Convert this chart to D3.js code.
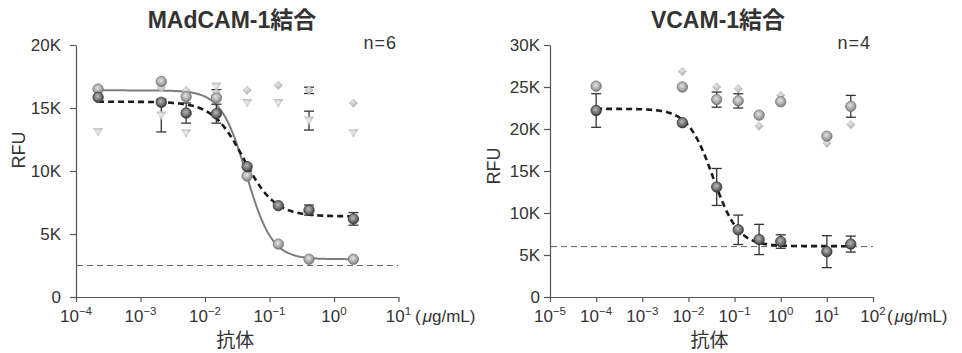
<!DOCTYPE html>
<html>
<head>
<meta charset="utf-8">
<script src="https://cdn.jsdelivr.net/npm/d3@7/dist/d3.min.js"></script>
<style>
  html, body { margin: 0; padding: 0; background: #fff; }
  svg { display: block; }
  text { font-family: "Liberation Sans", Arial, "Noto Sans CJK JP", sans-serif; fill: #333; }
</style>
</head>
<body>
<svg id="chart" width="962" height="353"></svg>
<script>
// ---- MAdCAM-1 binding (concentration in µg/mL, RFU) ----
const madcamTitle = "MAdCAM-1結合";
const madcamN = "n=6";
const madcamConc = [2.2e-4, 2.1e-3, 5.1e-3, 0.015, 0.045, 0.137, 0.41, 2.0];
const madcamDark = [15850, 15450, 14600, 14550, 10350, 7250, 6900, 6200];
const madcamDarkErr = [0, 0, 800, 750, 0, 0, 400, 500];
const madcamLight = [16500, 17100, 15900, 15800, 9600, 4200, 3000, 3000];
const madcamDiamond = [15700, 16600, 16400, 16200, 16400, 16800, 16400, 15400];
const madcamDiamondErr = [0, 0, 0, 250, 0, 0, 250, 0];
const madcamTriangle = [13100, 14400, 13000, 16700, 15400, 15400, 14000, 13000];
const madcamTriangleErr = [0, 1300, 0, 0, 0, 0, 750, 0];
// four-parameter logistic fits: [top, bottom, EC50, hill]
const madcamDarkFit = [15500, 6400, 0.04, 1.8];
const madcamLightFit = [16400, 3000, 0.044, 2.2];
const madcamBaseline = 2500;
const madcamYTicks = [0, 5000, 10000, 15000, 20000];
const madcamXTicks = [-4, -3, -2, -1, 0, 1];

// ---- VCAM-1 binding ----
const vcamTitle = "VCAM-1結合";
const vcamN = "n=4";
const vcamConc = [1e-4, 0.0074, 0.041, 0.12, 0.34, 1, 10, 33];
const vcamDark = [22200, 20750, 13100, 8000, 6850, 6600, 5400, 6300];
const vcamDarkErr = [2000, 0, 2200, 1750, 1800, 800, 1900, 950];
const vcamLight = [25100, 25000, 23500, 23350, 21650, 23250, 19150, 22700];
const vcamLightErr = [0, 0, 900, 850, 0, 0, 0, 1300];
const vcamDiamond = [24900, 26850, 25000, 24800, 20350, 24000, 18300, 20550];
const vcamDarkFit = [22400, 6050, 0.0343, 1.6];
const vcamBaseline = 6000;
const vcamYTicks = [0, 5000, 10000, 15000, 20000, 25000, 30000];
const vcamXTicks = [-5, -4, -3, -2, -1, 0, 1, 2];

const unitLabel = "μg/mL";
const xTitle = "抗体";
const yTitle = "RFU";

const svg = d3.select("#chart");
const defs = svg.append("defs");

function sphere(id, c0, c1, c2) {
  const g = defs.append("radialGradient").attr("id", id)
    .attr("cx", "45%").attr("cy", "40%").attr("r", "60%");
  g.append("stop").attr("offset", "0%").attr("stop-color", c0);
  g.append("stop").attr("offset", "55%").attr("stop-color", c1);
  g.append("stop").attr("offset", "100%").attr("stop-color", c2);
}
sphere("gDark", "#b8b8b8", "#7a7a7a", "#3a3a3a");
sphere("gLight", "#e4e4e4", "#b0b0b0", "#7c7c7c");
sphere("gDiamond", "#e6e6e6", "#c4c4c4", "#a6a6a6");
sphere("gTri", "#eeeeee", "#cdcdcd", "#b0b0b0");

const logistic = ([top, bottom, ec50, hill]) => c => bottom + (top - bottom) / (1 + Math.pow(c / ec50, hill));
const kFmt = d => d === 0 ? "0" : (d / 1000) + "K";
const supMinus = e => e < 0 ? "\u2212" + (-e) : String(e);

function drawPanel(o) {
  const g = svg.append("g");
  const x = d3.scaleLog().domain(o.xDomain).range(o.xRange);
  const y = d3.scaleLinear().domain(o.yDomain).range([297, 45]);

  // axes
  const yAxis = g.append("g").attr("transform", `translate(${o.xRange[0]},0)`)
    .call(d3.axisLeft(y).tickValues(o.yTicks).tickFormat(kFmt).tickSize(6).tickPadding(o.yPad).tickSizeOuter(0));
  const xAxis = g.append("g").attr("transform", "translate(0,297)")
    .call(d3.axisBottom(x).tickValues(o.xTicks.map(e => Math.pow(10, e))).tickFormat("").tickSize(5).tickSizeOuter(0));
  [yAxis, xAxis].forEach(a => {
    a.selectAll("path, line").attr("stroke", "#555").attr("stroke-width", 1.2);
  });
  yAxis.selectAll("text").attr("font-size", 17).attr("fill", "#333")
    .style("font-family", '"Liberation Sans", Arial, sans-serif');

  // decade labels with superscript exponents
  o.xTicks.forEach(e => {
    const t = g.append("text").attr("x", x(Math.pow(10, e))).attr("y", 322)
      .attr("text-anchor", "middle").attr("font-size", 17);
    t.append("tspan").text("10");
    t.append("tspan").attr("dy", -7).attr("font-size", 11.5).text(supMinus(e));
  });
  // unit label after the last decade
  const u = g.append("text").attr("x", o.unitX).attr("y", 322).attr("font-size", 17);
  u.append("tspan").text("(");
  u.append("tspan").attr("font-style", "italic").attr("dx", 2).text(unitLabel[0]);
  u.append("tspan").text(unitLabel.slice(1) + ")");

  // axis titles
  g.append("text").attr("x", (o.xRange[0] + o.xRange[1]) / 2 - 2).attr("y", 347)
    .attr("text-anchor", "middle").attr("font-size", 19)
    .style("font-family", '"Noto Sans CJK JP", sans-serif').text(xTitle);
  g.append("text").attr("transform", `translate(${o.yTitleX},${o.yTitleY}) rotate(-90)`)
    .attr("text-anchor", "middle").attr("font-size", 18).text(yTitle);

  // chart title and n
  g.append("text").attr("x", o.titleX).attr("y", 28).attr("text-anchor", "middle")
    .attr("font-size", 23).attr("font-weight", "bold").attr("fill", "#222").text(o.title);
  g.append("text").attr("x", o.nX).attr("y", 49).attr("text-anchor", "end")
    .attr("font-size", 18).attr("letter-spacing", 1).text(o.n);

  // background reference level
  g.append("line").attr("x1", o.xRange[0] + 1).attr("x2", o.xRange[1])
    .attr("y1", y(o.baseline)).attr("y2", y(o.baseline))
    .attr("stroke", "#666").attr("stroke-width", 1).attr("stroke-dasharray", "6,4");

  // fitted curves
  const conc = o.conc;
  const lo = Math.log10(conc[0]), hi = Math.log10(conc[conc.length - 1]);
  const samples = d3.range(0, 201).map(i => Math.pow(10, lo + (hi - lo) * i / 200));
  const line = d3.line().x(d => x(d[0])).y(d => y(d[1])).curve(d3.curveLinear);
  o.fits.forEach(f => {
    const fn = logistic(f.p);
    g.append("path").datum(samples.map(c => [c, fn(c)]))
      .attr("d", line).attr("fill", "none")
      .attr("stroke", f.color).attr("stroke-width", f.width)
      .attr("stroke-dasharray", f.dash || null);
  });

  // error bars
  const errG = g.append("g").attr("stroke", "#333").attr("stroke-width", 1.3);
  o.series.forEach(s => {
    if (!s.err) return;
    s.values.forEach((v, i) => {
      const e = s.err[i];
      if (!e) return;
      const cx = x(conc[i]);
      const y1 = y(v + e), y2 = y(v - e);
      errG.append("line").attr("x1", cx).attr("x2", cx).attr("y1", y1).attr("y2", y2);
      errG.append("line").attr("x1", cx - 5).attr("x2", cx + 5).attr("y1", y1).attr("y2", y1);
      errG.append("line").attr("x1", cx - 5).attr("x2", cx + 5).attr("y1", y2).attr("y2", y2);
    });
  });

  // markers
  o.series.forEach(s => {
    const mg = g.append("g");
    s.values.forEach((v, i) => {
      const cx = x(conc[i]), cy = y(v);
      if (s.shape === "circle") {
        mg.append("circle").attr("cx", cx).attr("cy", cy).attr("r", 5.2)
          .attr("fill", `url(#${s.fill})`).attr("stroke", s.stroke).attr("stroke-width", 0.8);
      } else if (s.shape === "diamond") {
        mg.append("path").attr("d", `M${cx},${cy - 4.5}L${cx + 4.5},${cy}L${cx},${cy + 4.5}L${cx - 4.5},${cy}Z`)
          .attr("fill", `url(#${s.fill})`);
      } else {
        mg.append("path").attr("d", `M${cx - 5},${cy - 4}L${cx + 5},${cy - 4}L${cx},${cy + 4.5}Z`)
          .attr("fill", `url(#${s.fill})`);
      }
    });
  });
}

drawPanel({
  title: madcamTitle, n: madcamN, titleX: 232, nX: 397,
  xDomain: [1e-4, 10], xRange: [76, 398.5], xTicks: madcamXTicks,
  yDomain: [0, 20000], yTicks: madcamYTicks, yPad: 9,
  unitX: 415, yTitleX: 25, yTitleY: 150,
  baseline: madcamBaseline, conc: madcamConc,
  fits: [
    { p: madcamLightFit, color: "#7d7d7d", width: 2 },
    { p: madcamDarkFit, color: "#1a1a1a", width: 2.6, dash: "6,4" }
  ],
  series: [
    { values: madcamDiamond, err: madcamDiamondErr, shape: "diamond", fill: "gDiamond" },
    { values: madcamTriangle, err: madcamTriangleErr, shape: "triangle", fill: "gTri" },
    { values: madcamLight, shape: "circle", fill: "gLight", stroke: "#777" },
    { values: madcamDark, err: madcamDarkErr, shape: "circle", fill: "gDark", stroke: "#333" }
  ]
});

drawPanel({
  title: vcamTitle, n: vcamN, titleX: 718, nX: 871,
  xDomain: [1e-5, 100], xRange: [550, 873], xTicks: vcamXTicks,
  yDomain: [0, 30000], yTicks: vcamYTicks, yPad: 4,
  unitX: 887, yTitleX: 500, yTitleY: 166,
  baseline: vcamBaseline, conc: vcamConc,
  fits: [
    { p: vcamDarkFit, color: "#1a1a1a", width: 2.6, dash: "6,4" }
  ],
  series: [
    { values: vcamDiamond, shape: "diamond", fill: "gDiamond" },
    { values: vcamLight, err: vcamLightErr, shape: "circle", fill: "gLight", stroke: "#777" },
    { values: vcamDark, err: vcamDarkErr, shape: "circle", fill: "gDark", stroke: "#333" }
  ]
});
</script>
</body>
</html>
